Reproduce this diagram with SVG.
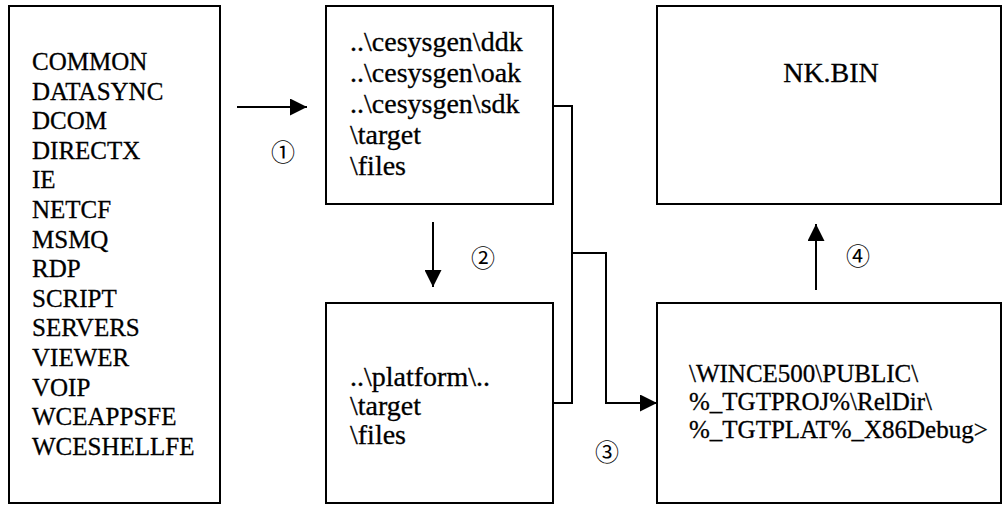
<svg xmlns="http://www.w3.org/2000/svg" width="1003" height="506" viewBox="0 0 1003 506">
  <style>
    .box { fill: #ffffff; stroke: #000000; stroke-width: 2; }
    .t { font-family: "Liberation Serif", "Times New Roman", serif; font-size: 25px; fill: #000000; stroke: #000000; stroke-width: 0.3; }
    .m { font-size: 28px; }
    .r { font-size: 25px; }
    .c { font-family: "Noto Sans CJK SC", "Noto Sans CJK JP", "DejaVu Sans", sans-serif; font-size: 24px; fill: #000000; text-anchor: middle; }
    .ln { fill: none; stroke: #000000; stroke-width: 2; }
  </style>
  <defs>
    <marker id="ah" viewBox="0 0 10 10" refX="10" refY="5" markerWidth="17" markerHeight="17" markerUnits="userSpaceOnUse" orient="auto">
      <path d="M0,0 L10,5 L0,10 Z" fill="#000000"/>
    </marker>
  </defs>
  <rect width="1003" height="506" fill="#ffffff"/>

  <g id="modules">
    <rect class="box" x="9" y="6" width="211" height="497"/>
    <text class="t" x="32" y="70">COMMON</text>
    <text class="t" x="32" y="99.6">DATASYNC</text>
    <text class="t" x="32" y="129.2">DCOM</text>
    <text class="t" x="32" y="158.8">DIRECTX</text>
    <text class="t" x="32" y="188.4">IE</text>
    <text class="t" x="32" y="218">NETCF</text>
    <text class="t" x="32" y="247.6">MSMQ</text>
    <text class="t" x="32" y="277.2">RDP</text>
    <text class="t" x="32" y="306.8">SCRIPT</text>
    <text class="t" x="32" y="336.4">SERVERS</text>
    <text class="t" x="32" y="366">VIEWER</text>
    <text class="t" x="32" y="395.6">VOIP</text>
    <text class="t" x="32" y="425.2">WCEAPPSFE</text>
    <text class="t" x="32" y="454.8">WCESHELLFE</text>
  </g>

  <g id="cesysgen">
    <rect class="box" x="326" y="6" width="227" height="198"/>
    <text class="t m" x="350" y="51">..\cesysgen\ddk</text>
    <text class="t m" x="350" y="82">..\cesysgen\oak</text>
    <text class="t m" x="350" y="113">..\cesysgen\sdk</text>
    <text class="t m" x="350" y="144">\target</text>
    <text class="t m" x="350" y="175">\files</text>
  </g>

  <g id="platform">
    <rect class="box" x="326" y="303" width="227" height="200"/>
    <text class="t m" x="350" y="386">..\platform\..</text>
    <text class="t m" x="350" y="415">\target</text>
    <text class="t m" x="350" y="444">\files</text>
  </g>

  <g id="nkbin">
    <rect class="box" x="657" y="6" width="344" height="198"/>
    <text class="t m" x="831" y="82" text-anchor="middle">NK.BIN</text>
  </g>

  <g id="release">
    <rect class="box" x="657" y="303" width="344" height="200"/>
    <text class="t r" x="689" y="382">\WINCE500\PUBLIC\</text>
    <text class="t r" x="689" y="410">%_TGTPROJ%\RelDir\</text>
    <text class="t r" x="689" y="438">%_TGTPLAT%_X86Debug&gt;</text>
  </g>

  <g id="connectors">
    <line class="ln" x1="237" y1="107" x2="307" y2="107" marker-end="url(#ah)"/>
    <line class="ln" x1="433" y1="222" x2="433" y2="287" marker-end="url(#ah)"/>
    <polyline class="ln" points="553,106 572,106 572,403 553,403"/>
    <polyline class="ln" points="572,253 606,253 606,403 657,403" marker-end="url(#ah)"/>
    <line class="ln" x1="816" y1="290" x2="816" y2="224" marker-end="url(#ah)"/>
    <text class="c" x="283" y="161">①</text>
    <text class="c" x="483" y="267">②</text>
    <text class="c" x="607" y="461">③</text>
    <text class="c" x="858" y="265">④</text>
  </g>
</svg>
